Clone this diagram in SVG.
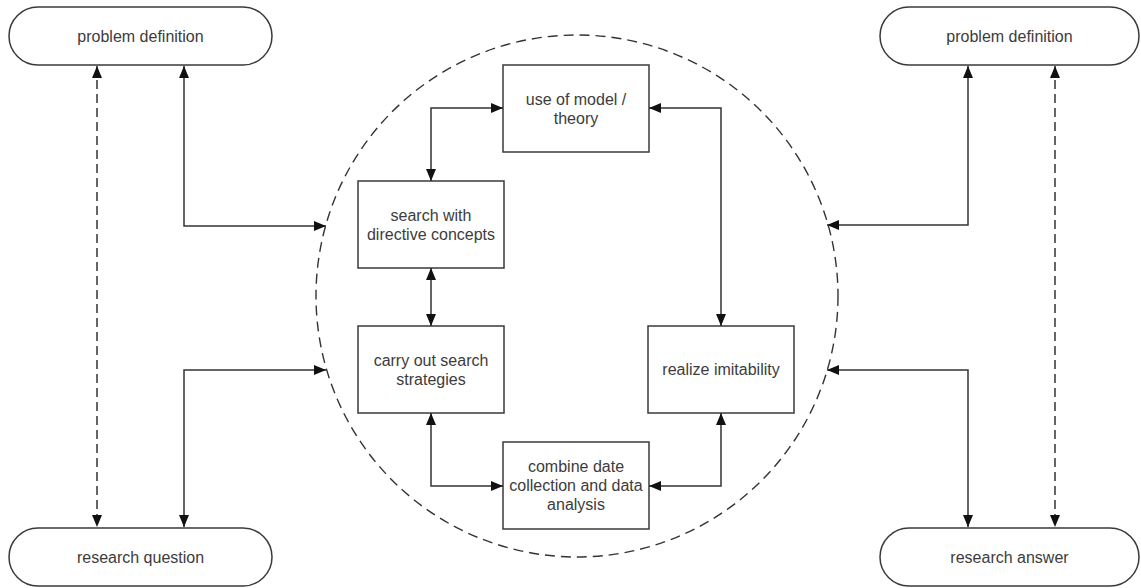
<svg xmlns="http://www.w3.org/2000/svg" width="1141" height="588" viewBox="0 0 1141 588">
  <defs>
    <marker id="arrow" viewBox="0 0 12 10" refX="12" refY="5" markerWidth="12" markerHeight="10" markerUnits="userSpaceOnUse" orient="auto-start-reverse">
      <path d="M0,0 L12,5 L0,10 z" fill="#111"/>
    </marker>
    <style>
      .pill, .box { fill: #fff; stroke: #3a3a3a; stroke-width: 1.5; }
      .label { font-family: "Liberation Sans", Arial, sans-serif; font-size: 16px; fill: #3c3c3c; text-anchor: middle; }
      .conn { fill: none; stroke: #333; stroke-width: 1.5; marker-start: url(#arrow); marker-end: url(#arrow); }
      .dash { stroke-dasharray: 9 5; }
      .scope { fill: none; stroke: #333; stroke-width: 1.4; stroke-dasharray: 10 6; }
    </style>
  </defs>
  <rect width="1141" height="588" fill="#fff"/>

  <!-- dashed boundary around the inner research cycle -->
  <circle class="scope" cx="577" cy="296" r="261"/>

  <!-- left side terminals -->
  <g id="problem-definition-left">
    <rect class="pill" x="9" y="7" width="263" height="58" rx="29" ry="29"/>
    <text class="label" x="140.5" y="41.5">problem definition</text>
  </g>
  <g id="research-question">
    <rect class="pill" x="9" y="528" width="263" height="58" rx="29" ry="29"/>
    <text class="label" x="140.5" y="563">research question</text>
  </g>

  <!-- right side terminals -->
  <g id="problem-definition-right">
    <rect class="pill" x="880" y="7" width="259" height="58" rx="29" ry="29"/>
    <text class="label" x="1009.5" y="41.5">problem definition</text>
  </g>
  <g id="research-answer">
    <rect class="pill" x="880" y="528" width="259" height="58" rx="29" ry="29"/>
    <text class="label" x="1009.5" y="563">research answer</text>
  </g>

  <!-- inner process steps -->
  <g id="use-of-model">
    <rect class="box" x="503" y="65" width="146" height="87"/>
    <text class="label" x="576" y="104.5">use of model /</text>
    <text class="label" x="576" y="123.5">theory</text>
  </g>
  <g id="search-directive">
    <rect class="box" x="358" y="181" width="146" height="87"/>
    <text class="label" x="431" y="220.5">search with</text>
    <text class="label" x="431" y="239.5">directive concepts</text>
  </g>
  <g id="carry-out-search">
    <rect class="box" x="358" y="326" width="146" height="87"/>
    <text class="label" x="431" y="365.5">carry out search</text>
    <text class="label" x="431" y="384.5">strategies</text>
  </g>
  <g id="realize-imitability">
    <rect class="box" x="648" y="326" width="146" height="87"/>
    <text class="label" x="721" y="375">realize imitability</text>
  </g>
  <g id="combine-collection-analysis">
    <rect class="box" x="503" y="442" width="146" height="87"/>
    <text class="label" x="576" y="472">combine date</text>
    <text class="label" x="576" y="491">collection and data</text>
    <text class="label" x="576" y="510">analysis</text>
  </g>

  <!-- connectors (all two-way) -->
  <g id="connectors">
    <path class="conn dash" d="M97,66 L97,527"/>
    <path class="conn" d="M184,66 L184,226 L326,226"/>
    <path class="conn" d="M184,527 L184,370 L326,370"/>

    <path class="conn" d="M968,66 L968,225 L827,225"/>
    <path class="conn dash" d="M1055,66 L1055,527"/>
    <path class="conn" d="M968,527 L968,370 L827,370"/>

    <path class="conn" d="M431,181 L431,108 L503,108"/>
    <path class="conn" d="M649,108 L721,108 L721,326"/>
    <path class="conn" d="M431,268 L431,326"/>
    <path class="conn" d="M431,413 L431,486 L503,486"/>
    <path class="conn" d="M721,413 L721,486 L649,486"/>
  </g>
</svg>
